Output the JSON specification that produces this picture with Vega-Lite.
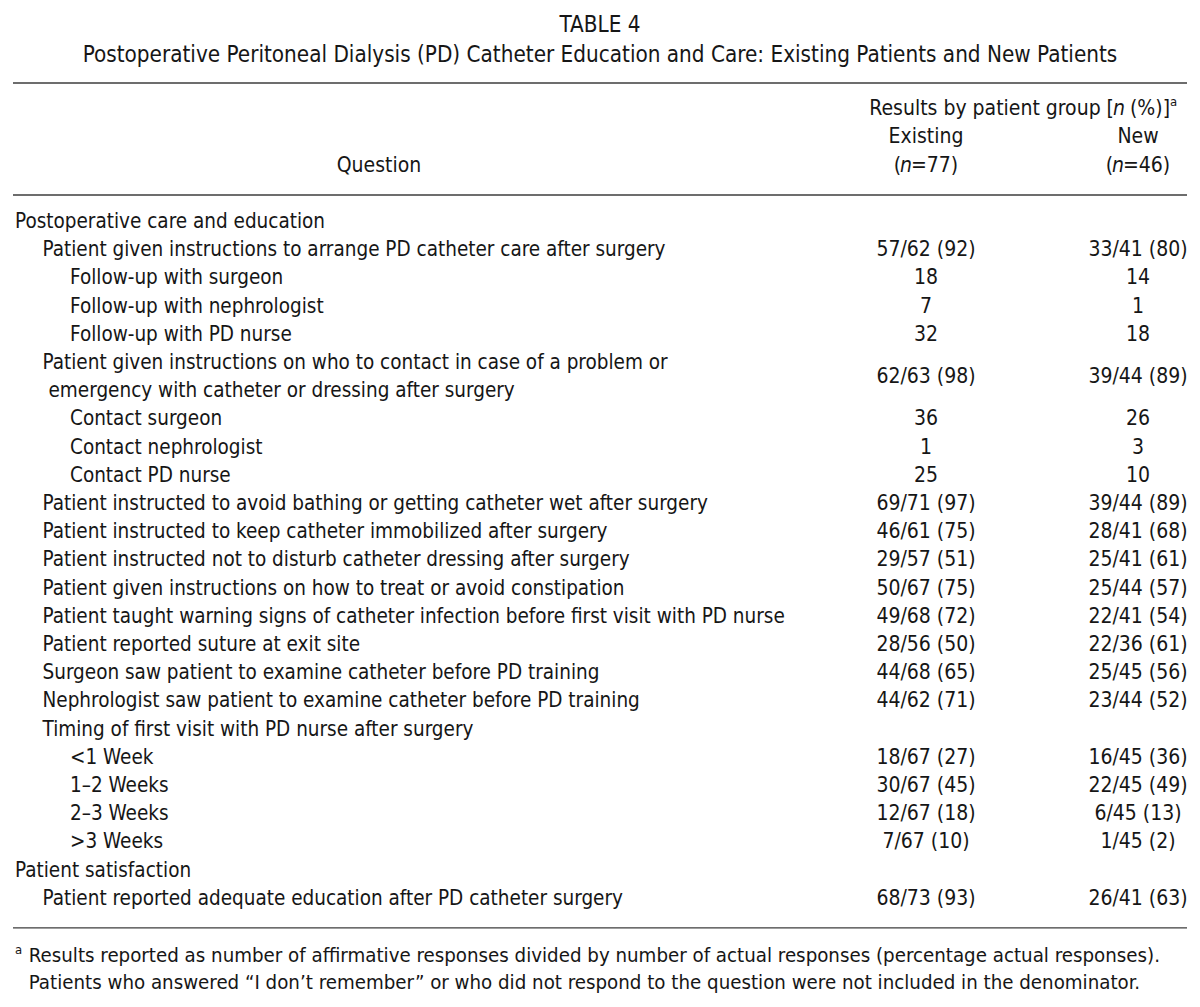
{
  "$schema": "https://vega.github.io/schema/vega-lite/v6.json",
  "width": 1200,
  "height": 1007,
  "autosize": {"type": "fit", "contains": "padding"},
  "padding": {"left": 12, "right": 12, "top": 0, "bottom": 0},
  "background": "white",
  "config": {
    "view": {"stroke": null},
    "text": {"font": "Liberation Sans Narrow, Arial Narrow, DejaVu Sans Condensed, Lato, sans-serif", "fontSize": 21, "color": "#161616", "baseline": "middle"}
  },
  "datasets": {
    "rules": [{"line": -3.93}, {"line": 0.04}, {"line": 26.03}],
    "title": [
      {"line": -6, "text": "TABLE 4"},
      {"line": -4.92, "text": "Postoperative Peritoneal Dialysis (PD) Catheter Education and Care: Existing Patients and New Patients"}
    ],
    "question": [{"line": -1, "column": "Question", "text": "Question"}],
    "colheads": [
      {"line": -3, "group": "both", "pre": "Results by patient group [", "ital": "n", "post": "(%)]", "sup": "a"},
      {"line": -2, "group": "existing", "text": "Existing"},
      {"line": -2, "group": "new", "text": "New"},
      {"line": -1, "group": "existing", "pre": "(", "ital": "n", "post": "=77)"},
      {"line": -1, "group": "new", "pre": "(", "ital": "n", "post": "=46)"}
    ],
    "rows": [
      {"line": 1, "indent": 0, "label": "Postoperative care and education", "existing": null, "new": null},
      {"line": 2, "indent": 1, "label": "Patient given instructions to arrange PD catheter care after surgery", "existing": "57/62 (92)", "new": "33/41 (80)"},
      {"line": 3, "indent": 2, "label": "Follow-up with surgeon", "existing": "18", "new": "14"},
      {"line": 4, "indent": 2, "label": "Follow-up with nephrologist", "existing": "7", "new": "1"},
      {"line": 5, "indent": 2, "label": "Follow-up with PD nurse", "existing": "32", "new": "18"},
      {"line": 6, "indent": 1, "label": "Patient given instructions on who to contact in case of a problem or", "existing": "62/63 (98)", "new": "39/44 (89)", "span": 2},
      {"line": 7, "indent": 1, "label": "emergency with catheter or dressing after surgery", "existing": null, "new": null, "cont": true},
      {"line": 8, "indent": 2, "label": "Contact surgeon", "existing": "36", "new": "26"},
      {"line": 9, "indent": 2, "label": "Contact nephrologist", "existing": "1", "new": "3"},
      {"line": 10, "indent": 2, "label": "Contact PD nurse", "existing": "25", "new": "10"},
      {"line": 11, "indent": 1, "label": "Patient instructed to avoid bathing or getting catheter wet after surgery", "existing": "69/71 (97)", "new": "39/44 (89)"},
      {"line": 12, "indent": 1, "label": "Patient instructed to keep catheter immobilized after surgery", "existing": "46/61 (75)", "new": "28/41 (68)"},
      {"line": 13, "indent": 1, "label": "Patient instructed not to disturb catheter dressing after surgery", "existing": "29/57 (51)", "new": "25/41 (61)"},
      {"line": 14, "indent": 1, "label": "Patient given instructions on how to treat or avoid constipation", "existing": "50/67 (75)", "new": "25/44 (57)"},
      {"line": 15, "indent": 1, "label": "Patient taught warning signs of catheter infection before first visit with PD nurse", "existing": "49/68 (72)", "new": "22/41 (54)"},
      {"line": 16, "indent": 1, "label": "Patient reported suture at exit site", "existing": "28/56 (50)", "new": "22/36 (61)"},
      {"line": 17, "indent": 1, "label": "Surgeon saw patient to examine catheter before PD training", "existing": "44/68 (65)", "new": "25/45 (56)"},
      {"line": 18, "indent": 1, "label": "Nephrologist saw patient to examine catheter before PD training", "existing": "44/62 (71)", "new": "23/44 (52)"},
      {"line": 19, "indent": 1, "label": "Timing of first visit with PD nurse after surgery", "existing": null, "new": null},
      {"line": 20, "indent": 2, "label": "<1 Week", "existing": "18/67 (27)", "new": "16/45 (36)"},
      {"line": 21, "indent": 2, "label": "1\u20132 Weeks", "existing": "30/67 (45)", "new": "22/45 (49)"},
      {"line": 22, "indent": 2, "label": "2\u20133 Weeks", "existing": "12/67 (18)", "new": "6/45 (13)"},
      {"line": 23, "indent": 2, "label": ">3 Weeks", "existing": "7/67 (10)", "new": "1/45 (2)"},
      {"line": 24, "indent": 0, "label": "Patient satisfaction", "existing": null, "new": null},
      {"line": 25, "indent": 1, "label": "Patient reported adequate education after PD catheter surgery", "existing": "68/73 (93)", "new": "26/41 (63)"}
    ],
    "foot": [
      {"line": 27.03, "indent": 0.5, "label": "Results reported as number of affirmative responses divided by number of actual responses (percentage actual responses)."},
      {"line": 28, "indent": 0.5, "label": "Patients who answered \u201cI don\u2019t remember\u201d or who did not respond to the question were not included in the denominator."}
    ],
    "footsup": [{"line": 27.03, "indent": 0, "sup": "a"}]
  },
  "resolve": {"scale": {"x": "independent"}},
  "layer": [
    {
      "data": {"name": "rules"},
      "mark": {"type": "rule", "color": "#3c3c3c", "strokeWidth": 1.4},
      "encoding": {
        "y": {"field": "line", "type": "quantitative", "axis": null, "scale": {"domain": [-6.8723, 28.8369], "reverse": true, "nice": false, "zero": false}}
      }
    },
    {
      "data": {"name": "title"},
      "mark": {"type": "text", "align": "center", "fontSize": 22.3},
      "encoding": {
        "y": {"field": "line", "type": "quantitative", "axis": null, "scale": {"domain": [-6.8723, 28.8369], "reverse": true, "nice": false, "zero": false}},
        "text": {"field": "text", "type": "nominal"}
      }
    },
    {
      "data": {"name": "question"},
      "mark": {"type": "text", "align": "center"},
      "encoding": {
        "x": {"field": "column", "type": "nominal", "axis": null, "scale": {"type": "point", "domain": ["Question"], "range": [0, 732], "padding": 0.5}},
        "y": {"field": "line", "type": "quantitative", "axis": null, "scale": {"domain": [-6.8723, 28.8369], "reverse": true, "nice": false, "zero": false}},
        "text": {"field": "text", "type": "nominal"}
      }
    },
    {
      "data": {"name": "colheads"},
      "encoding": {
        "x": {"field": "group", "type": "nominal", "axis": null, "scale": {"type": "point", "domain": ["existing", "both", "new"], "range": [913, 1125], "padding": 0}},
        "y": {"field": "line", "type": "quantitative", "axis": null, "scale": {"domain": [-6.8723, 28.8369], "reverse": true, "nice": false, "zero": false}}
      },
      "layer": [
        {
          "transform": [{"filter": "datum.text != null"}],
          "mark": {"type": "text", "align": "center"},
          "encoding": {"text": {"field": "text", "type": "nominal"}}
        },
        {
          "transform": [{"filter": "datum.group != 'both' && datum.pre != null"}],
          "layer": [
            {"mark": {"type": "text", "align": "right", "dx": -25}, "encoding": {"text": {"field": "pre", "type": "nominal"}}},
            {"mark": {"type": "text", "align": "center", "dx": -20, "fontStyle": "italic"}, "encoding": {"text": {"field": "ital", "type": "nominal"}}},
            {"mark": {"type": "text", "align": "left", "dx": -15}, "encoding": {"text": {"field": "post", "type": "nominal"}}}
          ]
        },
        {
          "transform": [{"filter": "datum.group == 'both'"}],
          "layer": [
            {"mark": {"type": "text", "align": "right", "dx": 82}, "encoding": {"text": {"field": "pre", "type": "nominal"}}},
            {"mark": {"type": "text", "align": "center", "dx": 87, "fontStyle": "italic"}, "encoding": {"text": {"field": "ital", "type": "nominal"}}},
            {"mark": {"type": "text", "align": "left", "dx": 98}, "encoding": {"text": {"field": "post", "type": "nominal"}}},
            {"mark": {"type": "text", "align": "left", "dx": 138, "dy": -7, "fontSize": 13}, "encoding": {"text": {"field": "sup", "type": "nominal"}}}
          ]
        }
      ]
    },
    {
      "encoding": {
        "x": {"field": "indent", "type": "quantitative", "axis": null, "scale": {"domain": [0, 2], "range": [2, 57], "nice": false, "zero": false}},
        "y": {"field": "line", "type": "quantitative", "axis": null, "scale": {"domain": [-6.8723, 28.8369], "reverse": true, "nice": false, "zero": false}}
      },
      "layer": [
        {
          "data": {"name": "rows"},
          "transform": [{"filter": "datum.cont != true"}],
          "mark": {"type": "text", "align": "left", "fontSize": 20.5},
          "encoding": {"text": {"field": "label", "type": "nominal"}}
        },
        {
          "data": {"name": "rows"},
          "transform": [{"filter": "datum.cont == true"}],
          "mark": {"type": "text", "align": "left", "fontSize": 20.5, "dx": 6},
          "encoding": {"text": {"field": "label", "type": "nominal"}}
        },
        {
          "data": {"name": "foot"},
          "mark": {"type": "text", "align": "left", "fontSize": 20.3},
          "encoding": {"text": {"field": "label", "type": "nominal"}}
        },
        {
          "data": {"name": "footsup"},
          "mark": {"type": "text", "align": "left", "dy": -6, "fontSize": 13},
          "encoding": {"text": {"field": "sup", "type": "nominal"}}
        }
      ]
    },
    {
      "data": {"name": "rows"},
      "transform": [
        {"fold": ["existing", "new"], "as": ["group", "value"]},
        {"filter": "datum.value != null"}
      ],
      "encoding": {
        "x": {"field": "group", "type": "nominal", "axis": null, "scale": {"type": "point", "domain": ["existing", "both", "new"], "range": [913, 1125], "padding": 0}},
        "y": {"field": "line", "type": "quantitative", "axis": null, "scale": {"domain": [-6.8723, 28.8369], "reverse": true, "nice": false, "zero": false}},
        "text": {"field": "value", "type": "nominal"}
      },
      "layer": [
        {
          "transform": [{"filter": "datum.span != 2"}],
          "mark": {"type": "text", "align": "center"}
        },
        {
          "transform": [{"filter": "datum.span == 2"}],
          "mark": {"type": "text", "align": "center", "dy": 14.1}
        }
      ]
    }
  ]
}
